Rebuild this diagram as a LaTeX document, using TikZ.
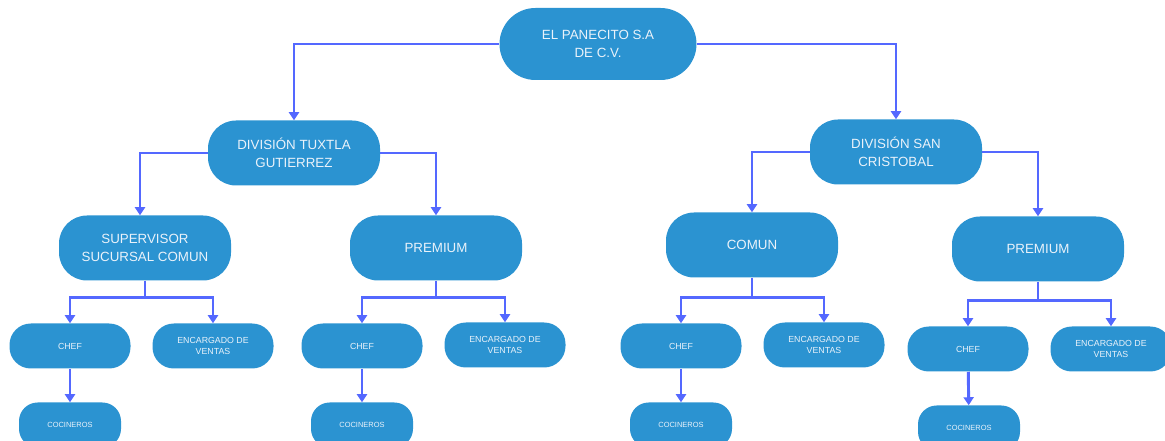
\documentclass[tikz,border=0pt]{standalone}
\usepackage{fontspec}
\setmainfont{Liberation Sans}
\usetikzlibrary{arrows.meta,positioning}

\definecolor{boxblue}{HTML}{2B93D1}
\definecolor{linkblue}{HTML}{5468FF}
\definecolor{boxtext}{HTML}{EAF2FA}

\begin{document}
\begin{tikzpicture}[
    x=0.75pt, y=-0.75pt,
    >=Triangle,
    bigbox/.style={fill=boxblue, draw=none, rounded corners=21pt,
                   text=boxtext, align=center, inner sep=0pt,
                   minimum width=129pt, minimum height=48.75pt,
                   font=\fontsize{10}{13.5}\selectfont},
    rootbox/.style={bigbox, rounded corners=27pt,
                    minimum width=147.75pt, minimum height=54pt},
    smallbox/.style={fill=boxblue, draw=none, rounded corners=16pt,
                     text=boxtext, align=center, inner sep=0pt,
                     minimum width=90.75pt, minimum height=33.75pt,
                     font=\fontsize{6.6}{8}\selectfont},
    cookbox/.style={smallbox, minimum width=76.5pt, rounded corners=14pt,
                    font=\fontsize{5.6}{7}\selectfont},
    arrow/.style={-{Triangle[length=6pt,width=7.5pt]},
                  line width=2.2pt, draw=linkblue}
]
\clip (0,0) rectangle (1165,441);

% top level
\node[rootbox] (panecito) at (598,44) {EL PANECITO S.A\\DE C.V.};

% divisions
\node[bigbox] (tuxtla) at (294,153) {DIVISIÓN TUXTLA\\GUTIERREZ};
\node[bigbox] (sancris) at (896,152) {DIVISIÓN SAN\\CRISTOBAL};

% branches
\node[bigbox] (supcomun) at (145,248) {SUPERVISOR\\SUCURSAL COMUN};
\node[bigbox] (premtux) at (436,248) {PREMIUM};
\node[bigbox] (comun) at (752,245) {COMUN};
\node[bigbox] (premsan) at (1038,249) {PREMIUM};

% staff
\node[smallbox] (chefa) at (70,346) {CHEF};
\node[smallbox] (ventasa) at (213,346) {ENCARGADO DE\\VENTAS};
\node[smallbox] (chefb) at (362,346) {CHEF};
\node[smallbox] (ventasb) at (505,345) {ENCARGADO DE\\VENTAS};
\node[smallbox] (chefc) at (681,346) {CHEF};
\node[smallbox] (ventasc) at (824,345) {ENCARGADO DE\\VENTAS};
\node[smallbox] (chefd) at (968,349) {CHEF};
\node[smallbox] (ventasd) at (1111,349) {ENCARGADO DE\\VENTAS};

\node[cookbox] (cocina) at (70,425) {COCINEROS};
\node[cookbox] (cocinb) at (362,425) {COCINEROS};
\node[cookbox] (cocinc) at (681,425) {COCINEROS};
\node[cookbox] (cocind) at (969,428) {COCINEROS};

% connectors
\draw[arrow] (panecito.west) -| (tuxtla.north);
\draw[arrow] (panecito.east) -| (sancris.north);

\draw[arrow] (tuxtla.west) -| ([xshift=-3.75pt]supcomun.north);
\draw[arrow] (tuxtla.east) -| (premtux.north);
\draw[arrow] (sancris.west) -| (comun.north);
\draw[arrow] (sancris.east) -| (premsan.north);

\draw[arrow] (supcomun.south) -- ++(0,17) -| (chefa.north);
\draw[arrow] (supcomun.south) -- ++(0,17) -| (ventasa.north);
\draw[arrow] (premtux.south) -- ++(0,17) -| (chefb.north);
\draw[arrow] (premtux.south) -- ++(0,17) -| (ventasb.north);
\draw[arrow] (comun.south) -- ++(0,20) -| (chefc.north);
\draw[arrow] (comun.south) -- ++(0,20) -| (ventasc.north);
\draw[arrow] (premsan.south) -- ++(0,19) -| (chefd.north);
\draw[arrow] (premsan.south) -- ++(0,19) -| (ventasd.north);

\draw[arrow] (chefa) -- (cocina);
\draw[arrow] (chefb) -- (cocinb);
\draw[arrow] (chefc) -- (cocinc);
\draw[arrow] (chefd) -- (cocind);

\end{tikzpicture}
\end{document}
